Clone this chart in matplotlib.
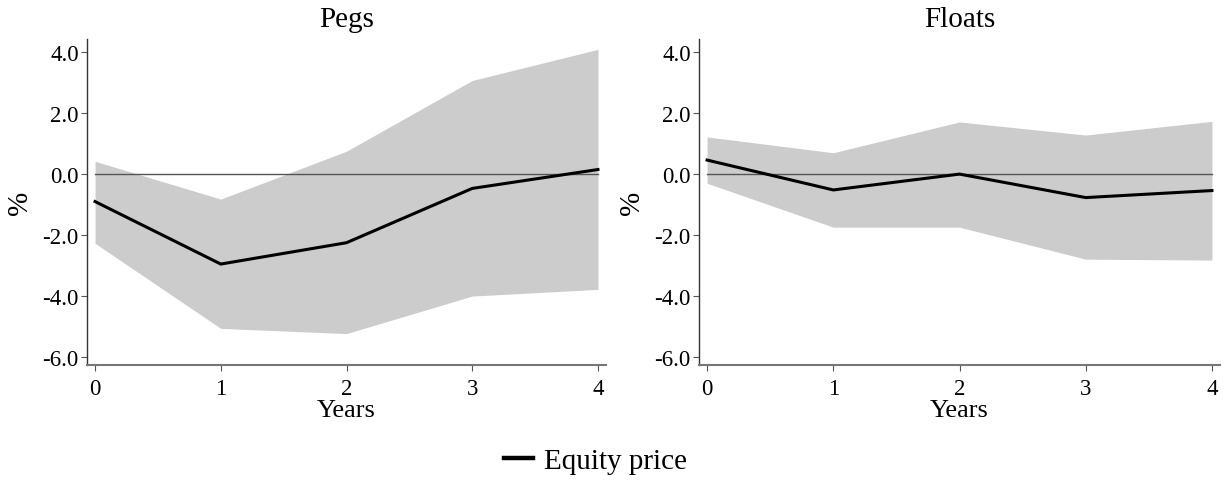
import matplotlib
matplotlib.use("Agg")
import matplotlib.pyplot as plt
from matplotlib.lines import Line2D
import numpy as np

years = [0, 1, 2, 3, 4]
pegs_mid = [-0.90, -2.95, -2.25, -0.47, 0.15]
pegs_up = [0.42, -0.82, 0.75, 3.07, 4.09]
pegs_lo = [-2.27, -5.06, -5.23, -4.00, -3.78]

floats_mid = [0.46, -0.52, 0.00, -0.77, -0.54]
floats_up = [1.22, 0.70, 1.71, 1.28, 1.73]
floats_lo = [-0.30, -1.74, -1.74, -2.79, -2.82]

titles = ["Pegs", "Floats"]
yticks = [4.0, 2.0, 0.0, -2.0, -4.0, -6.0]
ytick_labels = ["4.0", "2.0", "0.0", "-2.0", "-4.0", "-6.0"]
series_label = "Equity price"

plt.rcParams['font.family'] = ['Liberation Serif', 'DejaVu Serif']

fig = plt.figure(figsize=(12.25, 4.85), dpi=100)
W, H = 1225, 485
positions = [(87, 40, 606, 366), (699, 40, 1220, 366)]
data = [(pegs_mid, pegs_up, pegs_lo), (floats_mid, floats_up, floats_lo)]

for (x0, y0, x1, y1), (mid, up, lo), title in zip(positions, data, titles):
    ax = fig.add_axes([x0 / W, 1 - y1 / H, (x1 - x0) / W, (y1 - y0) / H])
    ax.fill_between(years, lo, up, color="#cccccc", linewidth=0)
    ax.plot([years[0], years[-1]], [0, 0], color="#555555", linewidth=1.0)
    ax.plot(years, mid, color="black", linewidth=2.2, label=series_label)
    ax.set_xlim(-0.064, 4.064)
    ax.set_ylim(-6.26, 4.43)
    ax.set_yticks(yticks)
    ax.set_yticklabels(ytick_labels)
    ax.set_xticks(years)
    for s in ["top", "right"]:
        ax.spines[s].set_visible(False)
    ax.spines["left"].set_color("#333333")
    ax.spines["bottom"].set_color("#777777")
    ax.spines["left"].set_linewidth(1.0)
    ax.spines["bottom"].set_linewidth(1.5)
    ax.tick_params(axis="y", direction="out", length=4, width=0.8, color="#555555",
                   labelsize=16.5, pad=2)
    ax.tick_params(axis="x", direction="out", length=4, width=0.8, color="#555555",
                   labelsize=16.5, pad=5.5)
    ax.set_title(title, fontsize=21, pad=9)
    ax.set_xlabel("Years", fontsize=19, labelpad=0)
    ax.set_ylabel("%", fontsize=21, labelpad=7)

legend_handle = Line2D([], [], color="black", linewidth=3.2)
fig.legend(handles=[legend_handle], labels=[series_label], loc="center",
           bbox_to_anchor=(0.486, 0.047), frameon=False, fontsize=21,
           handlelength=1.0, handletextpad=0.35)

fig.savefig("out.png", dpi=100, facecolor="white")
